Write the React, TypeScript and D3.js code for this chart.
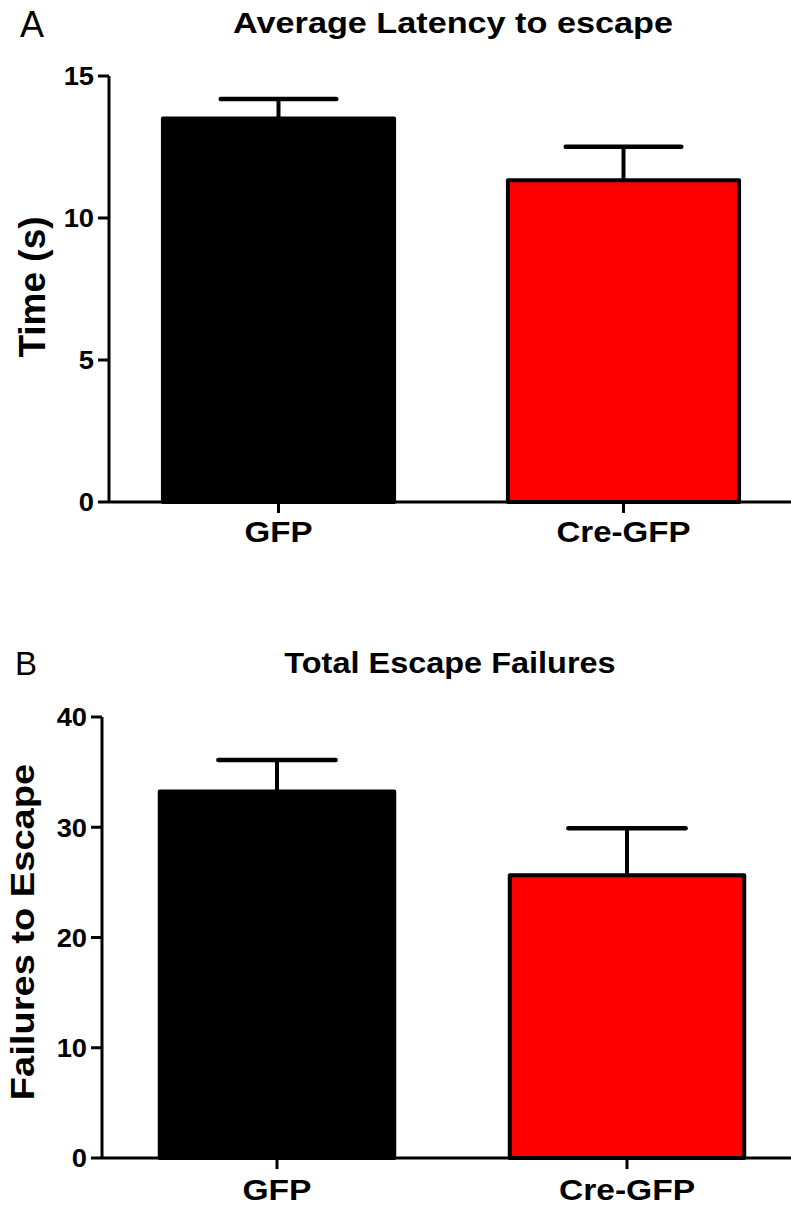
import React from 'react';
import * as d3 from 'd3';

// data
const groups = ['GFP', 'Cre-GFP'];
const barColors = ['#000000', '#ff0000'];

const latencyMean = [13.5, 11.33];
const latencySem = [0.69, 1.18];
const latencyTicks = [0, 5, 10, 15];

const failuresMean = [33.25, 25.65];
const failuresSem = [2.85, 4.25];
const failuresTicks = [0, 10, 20, 30, 40];

const FONT = 'Liberation Sans, Arial, Helvetica, sans-serif';

type PanelProps = {
  letter: string;
  letterPos: [number, number, number];
  title: string;
  titlePos: [number, number, number, number];
  yLabel: string;
  yLabelPos: [number, number, number, number];
  means: number[];
  sems: number[];
  ticks: number[];
  yMax: number;
  yRange: [number, number];
  xRange: [number, number];
  axisX: number;
  catY: number;
  catFont: number;
  catStretch: number;
};

const Panel = (props: PanelProps) => {
  const y = d3.scaleLinear().domain([0, props.yMax]).range(props.yRange);
  const x = d3
    .scaleBand<string>()
    .domain(groups)
    .range(props.xRange)
    .paddingInner(0.33)
    .paddingOuter(0.165);
  const bw = x.bandwidth();
  const y0 = y(0);

  return (
    <g fontFamily={FONT}>
      <text x={props.letterPos[0]} y={props.letterPos[1]} fontSize={props.letterPos[2]}>
        {props.letter}
      </text>
      <text
        transform={`translate(${props.titlePos[0]},${props.titlePos[1]}) scale(${props.titlePos[3]},1)`}
        textAnchor="middle"
        fontWeight="bold"
        fontSize={props.titlePos[2]}
      >
        {props.title}
      </text>
      <text
        transform={`translate(${props.yLabelPos[0]},${props.yLabelPos[1]}) rotate(-90) scale(${props.yLabelPos[3]},1)`}
        textAnchor="middle"
        fontWeight="bold"
        fontSize={props.yLabelPos[2]}
      >
        {props.yLabel}
      </text>

      {/* bars */}
      {groups.map((g, i) => {
        const cx = (x(g) as number) + bw / 2;
        const top = y(props.means[i]);
        const errTop = y(props.means[i] + props.sems[i]);
        return (
          <g key={g}>
            <line x1={cx} x2={cx} y1={top} y2={errTop} stroke="#000" strokeWidth={4} />
            <line
              x1={cx - bw / 4}
              x2={cx + bw / 4}
              y1={errTop}
              y2={errTop}
              stroke="#000"
              strokeWidth={4.5}
              strokeLinecap="round"
            />
            <rect
              x={x(g)}
              y={top}
              width={bw}
              height={y0 - top}
              fill={barColors[i]}
              stroke="#000"
              strokeWidth={4}
              strokeLinejoin="round"
            />
          </g>
        );
      })}

      {/* y axis */}
      <line
        x1={props.axisX}
        x2={props.axisX}
        y1={y(props.yMax)}
        y2={y0}
        stroke="#000"
        strokeWidth={3}
      />
      {props.ticks.map((t) => (
        <g key={t}>
          <line x1={props.axisX - 11} x2={props.axisX} y1={y(t)} y2={y(t)} stroke="#000" strokeWidth={3} />
          <text
            transform={`translate(${props.axisX - 15},${y(t)}) scale(1.05,1)`}
            dy="0.36em"
            textAnchor="end"
            fontWeight="bold"
            fontSize={26}
          >
            {t}
          </text>
        </g>
      ))}

      {/* x axis */}
      <line x1={props.axisX} x2={791} y1={y0} y2={y0} stroke="#000" strokeWidth={3} />
      {groups.map((g) => {
        const cx = (x(g) as number) + bw / 2;
        return (
          <g key={g}>
            <line x1={cx} x2={cx} y1={y0} y2={y0 + 11} stroke="#000" strokeWidth={3} />
            <text
              transform={`translate(${cx},${props.catY}) scale(${props.catStretch},1)`}
              textAnchor="middle"
              fontWeight="bold"
              fontSize={props.catFont}
            >
              {g}
            </text>
          </g>
        );
      })}
    </g>
  );
};

export default function App() {
  return (
    <svg
      width={791}
      height={1209}
      style={{ position: 'absolute', left: 0, top: 0, background: '#fff' }}
    >
      <Panel
        letter="A"
        letterPos={[20, 37, 36]}
        title="Average Latency to escape"
        titlePos={[453, 33, 29, 1.18]}
        yLabel="Time (s)"
        yLabelPos={[45, 287, 37, 1]}
        means={latencyMean}
        sems={latencySem}
        ticks={latencyTicks}
        yMax={15}
        yRange={[502, 76]}
        xRange={[106, 796]}
        axisX={109}
        catY={542}
        catFont={29}
        catStretch={1.14}
      />
      <Panel
        letter="B"
        letterPos={[15, 675, 33]}
        title="Total Escape Failures"
        titlePos={[450, 673, 29, 1.12]}
        yLabel="Failures to Escape"
        yLabelPos={[34, 932, 34, 1.12]}
        means={failuresMean}
        sems={failuresSem}
        ticks={failuresTicks}
        yMax={40}
        yRange={[1158, 717]}
        xRange={[102, 802]}
        axisX={102}
        catY={1200}
        catFont={30}
        catStretch={1.12}
      />
    </svg>
  );
}
